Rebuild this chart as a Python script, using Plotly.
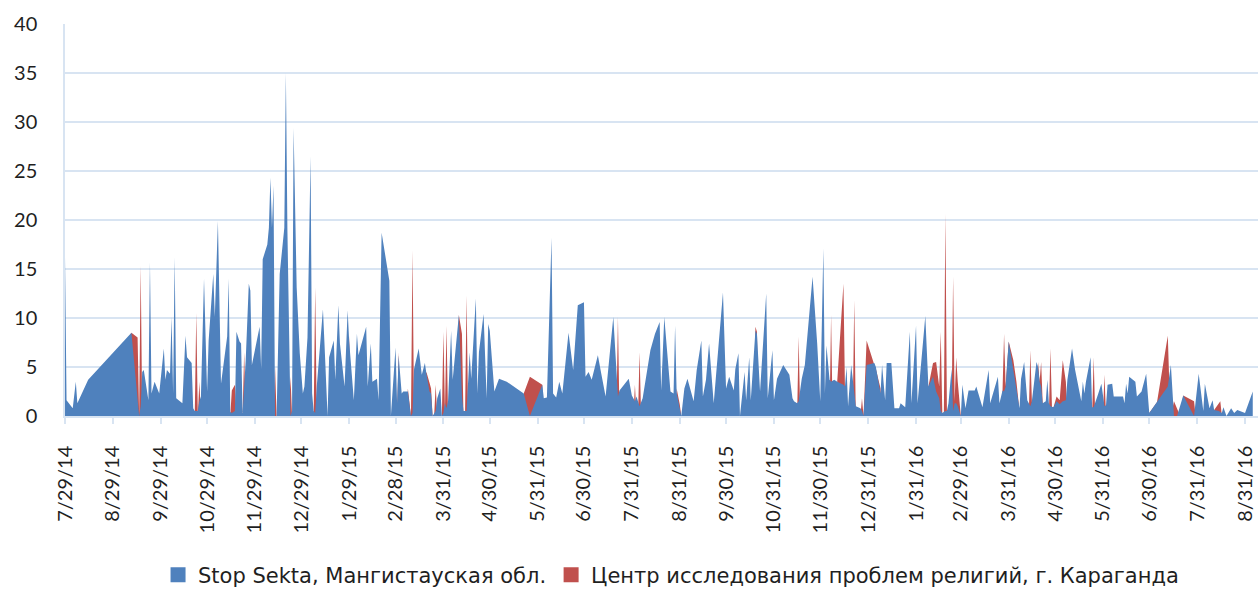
import pandas as pd
import plotly.graph_objects as go

# ---- data (dates stored as day numbers counted from the first date in the table) ----
START = "2014-07-29"

blue_day = [0, 1, 5, 7, 8, 15, 43, 48, 49, 50, 51, 54, 55, 56, 58, 61, 64, 65, 66, 68, 69, 70, 71, 72, 76, 78, 79, 82, 83, 84,
            85, 86, 87, 88, 90, 92, 93, 96, 97, 99, 101, 105, 106, 107, 108, 110, 111, 113, 114, 115, 117, 119, 120, 121, 126,
            127, 128, 131, 132, 133, 134, 135, 136, 137, 139, 142, 143, 144, 146, 147, 148, 150, 152, 154, 155, 157, 159, 160,
            161, 162, 163, 165, 167, 168, 170, 171, 174, 175, 177, 178, 181, 183, 184, 187, 189, 190, 195, 196, 198, 199, 202,
            203, 205, 210, 211, 214, 215, 216, 218, 219, 222, 224, 225, 226, 229, 231, 233, 234, 236, 237, 238, 240, 241, 243,
            244, 245, 246, 247, 248, 250, 251, 255, 256, 257, 258, 259, 260, 262, 263, 266, 267, 268, 271, 273, 274, 275, 278,
            281, 286, 297, 301, 309, 310, 312, 315, 316, 318, 320, 322, 326, 329, 332, 336, 337, 339, 341, 345, 347, 350, 355,
            357, 358, 359, 361, 365, 367, 369, 370, 372, 374, 379, 382, 385, 386, 388, 392, 394, 395, 396, 398, 399, 401, 403,
            407, 409, 412, 413, 415, 417, 420, 426, 428, 430, 433, 434, 436, 437, 440, 441, 443, 444, 447, 448, 450, 454, 455,
            458, 459, 461, 465, 469, 471, 472, 474, 475, 477, 479, 484, 487, 489, 491, 492, 493, 495, 496, 498, 500, 504, 505,
            506, 507, 509, 511, 512, 515, 516, 517, 519, 524, 525, 528, 529, 531, 532, 535, 537, 540, 541, 544, 545, 547, 548,
            551, 552, 557, 559, 562, 564, 566, 567, 568, 570, 571, 572, 574, 575, 576, 577, 578, 580, 581, 583, 585, 589, 590,
            594, 598, 599, 604, 605, 607, 608, 609, 611, 614, 618, 619, 621, 623, 625, 626, 629, 630, 631, 632, 633, 635, 636,
            637, 638, 640, 642, 644, 646, 648, 649, 652, 654, 658, 659, 660, 661, 664, 665, 666, 667, 669, 671, 673, 674, 675,
            678, 679, 685, 686, 687, 688, 689, 693, 694, 697, 700, 702, 714, 716, 718, 720, 724, 731, 734, 737, 738, 741, 743,
            744, 747, 749, 750, 752, 755, 757, 759, 764, 769]
blue_val = [16.2, 1.6, 0.8, 3.5, 1.3, 3.7, 8.5, 0.0, 1.0, 4.5, 4.7, 1.6, 15.7, 2.3, 3.5, 2.3, 6.9, 3.7, 4.7, 4.3, 10.1, 2.3, 16.2,
            1.8, 1.3, 8.2, 6.0, 5.4, 0.8, 0.5, 0.5, 0.5, 1.5, 2.0, 14.0, 2.5, 7.7, 14.5, 10.1, 19.9, 3.3, 8.1, 14.0, 0.4, 0.3,
            0.5, 8.6, 7.6, 7.4, 0.3, 5.7, 13.5, 12.8, 5.2, 9.1, 4.8, 16.0, 17.5, 19.2, 24.3, 19.2, 23.5, 0.0, 0.0, 14.5, 19.2,
            35.0, 19.0, 0.0, 0.5, 29.4, 13.1, 6.4, 2.3, 3.0, 8.0, 26.5, 2.3, 0.5, 0.3, 3.0, 6.7, 10.9, 7.4, 0.0, 6.0, 7.7, 3.7,
            11.3, 7.4, 3.0, 10.8, 7.6, 1.6, 8.4, 6.2, 9.1, 3.0, 7.4, 3.5, 3.8, 1.6, 18.7, 13.8, 0.0, 7.0, 1.3, 6.2, 2.3, 2.5,
            2.5, 0.0, 0.3, 4.8, 6.9, 4.2, 5.4, 4.3, 2.5, 2.3, 0.0, 0.5, 1.8, 2.8, 0.0, 0.3, 1.3, 0.8, 1.5, 8.7, 3.7, 10.3, 5.0,
            2.0, 0.5, 0.5, 0.5, 6.5, 3.8, 12.0, 2.3, 6.5, 10.4, 1.8, 9.4, 8.7, 2.5, 3.8, 3.5, 2.3, 0.0, 3.2, 1.8, 1.9, 18.2,
            2.3, 1.9, 3.5, 2.3, 8.5, 4.7, 11.3, 11.6, 4.0, 4.5, 3.7, 6.2, 4.5, 2.0, 10.1, 4.3, 2.0, 2.6, 3.0, 3.8, 2.1, 1.5,
            2.0, 1.0, 1.8, 6.7, 8.4, 9.6, 2.6, 10.1, 2.5, 2.3, 9.2, 2.4, 0.8, 0.0, 2.8, 3.8, 1.5, 4.7, 7.7, 2.0, 3.7, 7.4, 1.3,
            12.6, 2.8, 4.0, 2.6, 4.8, 6.4, 0.0, 4.5, 1.6, 6.0, 1.6, 8.7, 8.4, 2.5, 12.5, 1.8, 6.7, 1.6, 3.8, 5.2, 4.2, 1.8,
            1.5, 1.3, 1.5, 3.8, 5.2, 14.2, 7.4, 1.5, 17.1, 2.3, 7.2, 3.7, 3.5, 3.7, 3.5, 3.2, 3.0, 5.0, 1.0, 5.2, 2.5, 1.0, 0.8,
            0.5, 0.0, 5.2, 5.4, 5.0, 2.3, 5.2, 1.6, 5.4, 5.4, 0.8, 0.8, 1.3, 0.9, 3.5, 8.6, 1.3, 9.2, 1.3, 10.2, 3.0, 4.0, 2.5,
            1.8, 0.5, 0.3, 0.5, 0.5, 1.3, 4.8, 0.5, 1.3, 1.3, 1.0, 0.0, 3.2, 0.8, 2.6, 2.6, 3.0, 0.9, 4.7, 1.3, 4.0, 1.3, 2.6,
            2.5, 3.0, 7.6, 4.5, 0.8, 3.8, 5.5, 1.6, 1.0, 1.5, 5.5, 5.0, 3.5, 3.0, 1.3, 1.5, 3.7, 1.3, 1.0, 0.9, 1.5, 1.2, 1.5,
            1.6, 3.7, 6.9, 4.7, 1.5, 3.5, 2.3, 3.5, 6.0, 0.9, 0.9, 1.3, 2.3, 3.3, 1.0, 1.1, 3.2, 3.3, 2.0, 2.0, 1.3, 3.3, 2.3,
            4.0, 3.5, 2.0, 2.5, 4.3, 0.3, 3.0, 5.2, 0.0, 0.0, 2.1, 0.0, 4.3, 0.5, 3.3, 0.8, 1.6, 0.6, 0.5, 0.3, 0.9, 0.0, 0.8,
            0.3, 0.6, 0.3, 2.5]

red_day = [0, 15, 43, 47, 48, 49, 50, 84, 85, 86, 87, 88, 107, 108, 110, 111, 115, 116, 117, 135, 136, 137, 145, 146, 147,
           161, 162, 163, 183, 184, 185, 215, 216, 217, 221, 222, 224, 225, 226, 233, 234, 236, 237, 238, 239, 240, 241, 244,
           245, 246, 247, 248, 254, 255, 256, 257, 258, 259, 260, 261, 296, 297, 301, 309, 310, 357, 358, 359, 368, 369, 370,
           371, 372, 373, 395, 396, 398, 399, 446, 447, 448, 449, 474, 475, 476, 495, 496, 497, 499, 500, 504, 505, 506, 510,
           511, 512, 515, 516, 517, 519, 524, 525, 528, 529, 558, 559, 562, 564, 566, 567, 568, 569, 570, 571, 572, 574, 575,
           576, 577, 578, 580, 606, 607, 608, 609, 611, 614, 616, 618, 619, 624, 625, 626, 627, 629, 630, 631, 632, 633, 634,
           637, 638, 639, 640, 642, 644, 646, 648, 649, 665, 666, 667, 672, 673, 674, 702, 707, 714, 715, 716, 718, 722, 724,
           731, 732, 744, 748, 749, 769]
red_val = [0, 0, 8.5, 8.0, 0, 15.3, 0, 0, 10.5, 0, 3.5, 0, 0, 2.6, 3.2, 0, 0.3, 6.5, 0, 0, 5.0, 0, 0, 4.0, 0,
           0, 13.1, 0, 0, 8.2, 0, 0, 6.5, 0, 0, 2.8, 0, 16.9, 0, 4.0, 4.5, 3.4, 2.8, 0, 0, 3.2, 0, 0,
           8.6, 0.5, 9.2, 0, 5.0, 10.3, 9.5, 8.4, 0, 0, 12.3, 0, 0, 2.3, 4.0, 3.2, 0, 0, 10.1, 0, 0, 3.2, 0,
           0, 6.5, 0, 0, 2.8, 1.2, 0, 0, 9.1, 8.6, 0, 0, 8.1, 0, 0, 10.3, 0, 0, 3.6, 13.5, 2.5, 0, 0,
           11.8, 0, 0, 1.8, 0, 7.7, 5.2, 4.8, 2.8, 0, 0, 3.0, 5.4, 5.5, 3.0, 8.6, 0.3, 0, 20.6, 0.5, 0, 0, 14.2,
           1.5, 6.0, 3.5, 0, 0, 2.6, 8.4, 3.0, 7.6, 5.7, 3.5, 0.5, 0, 0, 6.7, 1.5, 0, 0, 5.5, 3.5, 5.5, 1.3, 0,
           0, 6.9, 0.9, 0.9, 2.0, 1.6, 5.7, 3.5, 0, 0, 6.0, 0, 0, 4.2, 0, 0.3, 1.4, 8.2, 3.2, 0, 1.5, 0, 2.1,
           1.5, 0, 0.6, 1.5, 0, 0]

tick_labels = ["7/29/14", "8/29/14", "9/29/14", "10/29/14", "11/29/14", "12/29/14", "1/29/15", "2/28/15",
               "3/31/15", "4/30/15", "5/31/15", "6/30/15", "7/31/15", "8/31/15", "9/30/15", "10/31/15",
               "11/30/15", "12/31/15", "1/31/16", "2/29/16", "3/31/16", "4/30/16", "5/31/16", "6/30/16",
               "7/31/16", "8/31/16"]

series_names = ["Stop Sekta, Мангистауская обл.",
                "Центр исследования проблем религий, г. Караганда"]

# ---- build ----
start = pd.Timestamp(START)
blue_x = start + pd.to_timedelta(blue_day, unit="D")
red_x = start + pd.to_timedelta(red_day, unit="D")
tick_x = pd.to_datetime(tick_labels, format="%m/%d/%y")

BLUE = "#4F81BD"
RED = "#C0504D"
GRID = "#D8E4F2"
TEXT = "#1F1F1F"
FONT = "Lato"
LEGEND_FONT = "DejaVu Sans"

fig = go.Figure()
fig.add_trace(go.Scatter(x=red_x, y=red_val, mode="lines", fill="tozeroy", fillcolor=RED,
                         line=dict(width=0, color=RED), showlegend=False, hoverinfo="skip"))
fig.add_trace(go.Scatter(x=blue_x, y=blue_val, mode="lines", fill="tozeroy", fillcolor=BLUE,
                         line=dict(width=0, color=BLUE), showlegend=False, hoverinfo="skip"))
for name, col in zip(series_names, [BLUE, RED]):
    fig.add_trace(go.Scatter(x=[None], y=[None], mode="markers", name=name,
                             marker=dict(symbol="square", size=15, color=col)))

fig.update_layout(
    width=1258, height=591,
    margin=dict(l=65, r=0, t=24, b=175, autoexpand=False),
    paper_bgcolor="white", plot_bgcolor="white",
    font=dict(family=FONT, size=20, color=TEXT),
    xaxis=dict(type="date", range=[start, start + pd.Timedelta(days=772.4)], automargin=False,
               tickmode="array", tickvals=tick_x, ticktext=tick_labels, tickangle=-90,
               showgrid=False, zeroline=False, showline=True, linecolor=GRID, linewidth=1.5,
               ticks="outside", ticklen=6, tickwidth=1.5, tickcolor=GRID,
               ticklabelstandoff=14, tickfont=dict(family=FONT, size=20, color=TEXT)),
    yaxis=dict(range=[0, 40], tick0=0, dtick=5, showgrid=True, gridcolor=GRID, gridwidth=1.5,
               automargin=False,
               zeroline=False, showline=True, linecolor=GRID, linewidth=1.5, ticks="",
               ticklabelstandoff=22, tickfont=dict(family=FONT, size=20, color=TEXT)),
    legend=dict(orientation="h", x=0.508, xanchor="center", y=-0.406, yanchor="middle",
                font=dict(family=LEGEND_FONT, size=21, color=TEXT), itemwidth=30,
                bgcolor="rgba(0,0,0,0)"),
    showlegend=True,
)

fig.write_html("out.html", config={"displayModeBar": False},
               post_script="document.body.style.margin='0';document.body.style.overflow='hidden';")
